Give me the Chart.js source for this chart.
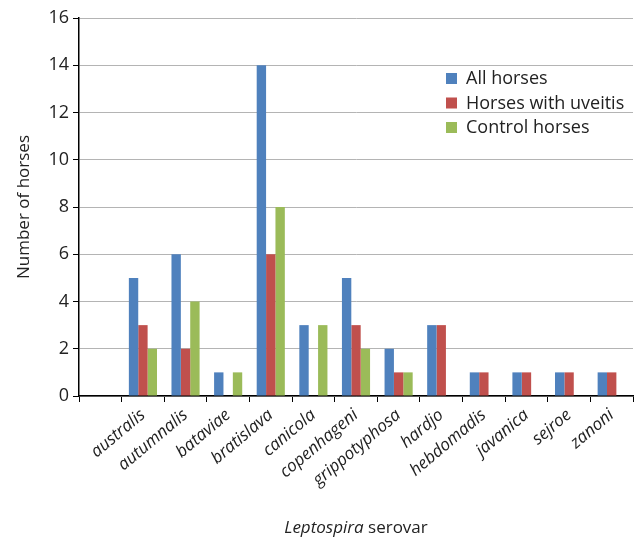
<!DOCTYPE html>
<html>
<head>
<meta charset="utf-8">
<script src="https://cdn.jsdelivr.net/npm/chart.js@4/dist/chart.umd.min.js"></script>
<style>
  html, body { margin: 0; padding: 0; background: #fff; }
  #wrap { width: 635px; height: 543px; }
</style>
</head>
<body>
<div id="wrap"><canvas id="serovarChart"></canvas></div>
<script>
// ---------------- DATA ----------------

const serovars = ["", "australis", "autumnalis", "bataviae", "bratislava", "canicola",
    "copenhageni", "grippotyphosa", "hardjo", "hebdomadis", "javanica", "sejroe", "zanoni"];

const allHorses     = [null, 5, 6, 1, 14, 3, 5, 2, 3, 1, 1, 1, 1];
const uveitisHorses = [null, 3, 2, 0, 6, 0, 3, 1, 3, 1, 1, 1, 1];
const controlHorses = [null, 2, 4, 1, 8, 3, 2, 1, 0, 0, 0, 0, 0];

const yTicks = [0, 2, 4, 6, 8, 10, 12, 14, 16];

const FONT = "'Open Sans', 'Noto Sans', sans-serif";

// legend drawn inside the plot area, top right
const insideLegend = {
    id: "insideLegend",
    afterDraw(chart) {
        const c = chart.ctx;
        c.save();
        c.font = "18px " + FONT;
        c.textBaseline = "middle";
        chart.data.datasets.forEach((ds, i) => {
            const y = 78 + i * 24.5;
            c.fillStyle = ds.backgroundColor;
            c.fillRect(446, y - 5, 11, 11);
            c.fillStyle = "#222";
            c.fillText(ds.label, 466, y + 1);
        });
        c.restore();
    }
};

// x axis title with italic genus name
const xTitle = {
    id: "xTitle",
    afterDraw(chart) {
        const c = chart.ctx;
        const area = chart.chartArea;
        c.save();
        c.textBaseline = "middle";
        c.fillStyle = "#222";
        c.font = "italic 17px " + FONT;
        const w1 = c.measureText("Leptospira").width;
        c.font = "17px " + FONT;
        const w2 = c.measureText(" serovar").width;
        let x = (area.left + area.right) / 2 - (w1 + w2) / 2;
        c.font = "italic 17px " + FONT;
        c.fillText("Leptospira", x, 528);
        c.font = "17px " + FONT;
        c.fillText(" serovar", x + w1, 528);
        c.restore();
    }
};

new Chart(document.getElementById("serovarChart"), {

    type: "bar",

    data: {
        labels: serovars,
        datasets: [
            { label: "All horses", data: allHorses, backgroundColor: "#4f81bd" },
            { label: "Horses with uveitis", data: uveitisHorses, backgroundColor: "#c0504d" },
            { label: "Control horses", data: controlHorses, backgroundColor: "#9bbb59" }
        ]
    },

    options: {
        responsive: true,
        maintainAspectRatio: false,
        animation: false,
        categoryPercentage: 0.66,
        barPercentage: 1.0,
        layout: { padding: { top: 18, right: 2, left: 0, bottom: 0 } },
        plugins: {
            legend: { display: false },
            tooltip: { enabled: false }
        },
        scales: {
            x: {
                grid: {
                    drawOnChartArea: false,
                    tickColor: "#000",
                    tickLength: 6
                },
                border: { color: "#000", width: 1.5 },
                ticks: {
                    minRotation: 40,
                    maxRotation: 40,
                    color: "#222",
                    font: { family: FONT, size: 17, style: "italic" }
                },
                afterFit(scale) { scale.height = 147; }
            },
            y: {
                min: 0,
                max: 16,
                afterBuildTicks(scale) {
                    scale.ticks = yTicks.map(v => ({ value: v }));
                },
                grid: {
                    color: "#b4b4b4",
                    tickColor: "#000",
                    tickLength: 6
                },
                border: { color: "#000", width: 1.5 },
                ticks: {
                    color: "#222",
                    padding: 4,
                    font: { family: FONT, size: 18 }
                },
                title: {
                    display: true,
                    text: "Number of horses",
                    color: "#222",
                    padding: { top: 14, bottom: 0 },
                    font: { family: FONT, size: 17 }
                },
                afterFit(scale) { scale.width = 79; }
            }
        }
    },

    plugins: [insideLegend, xTitle]
});
</script>
</body>
</html>
